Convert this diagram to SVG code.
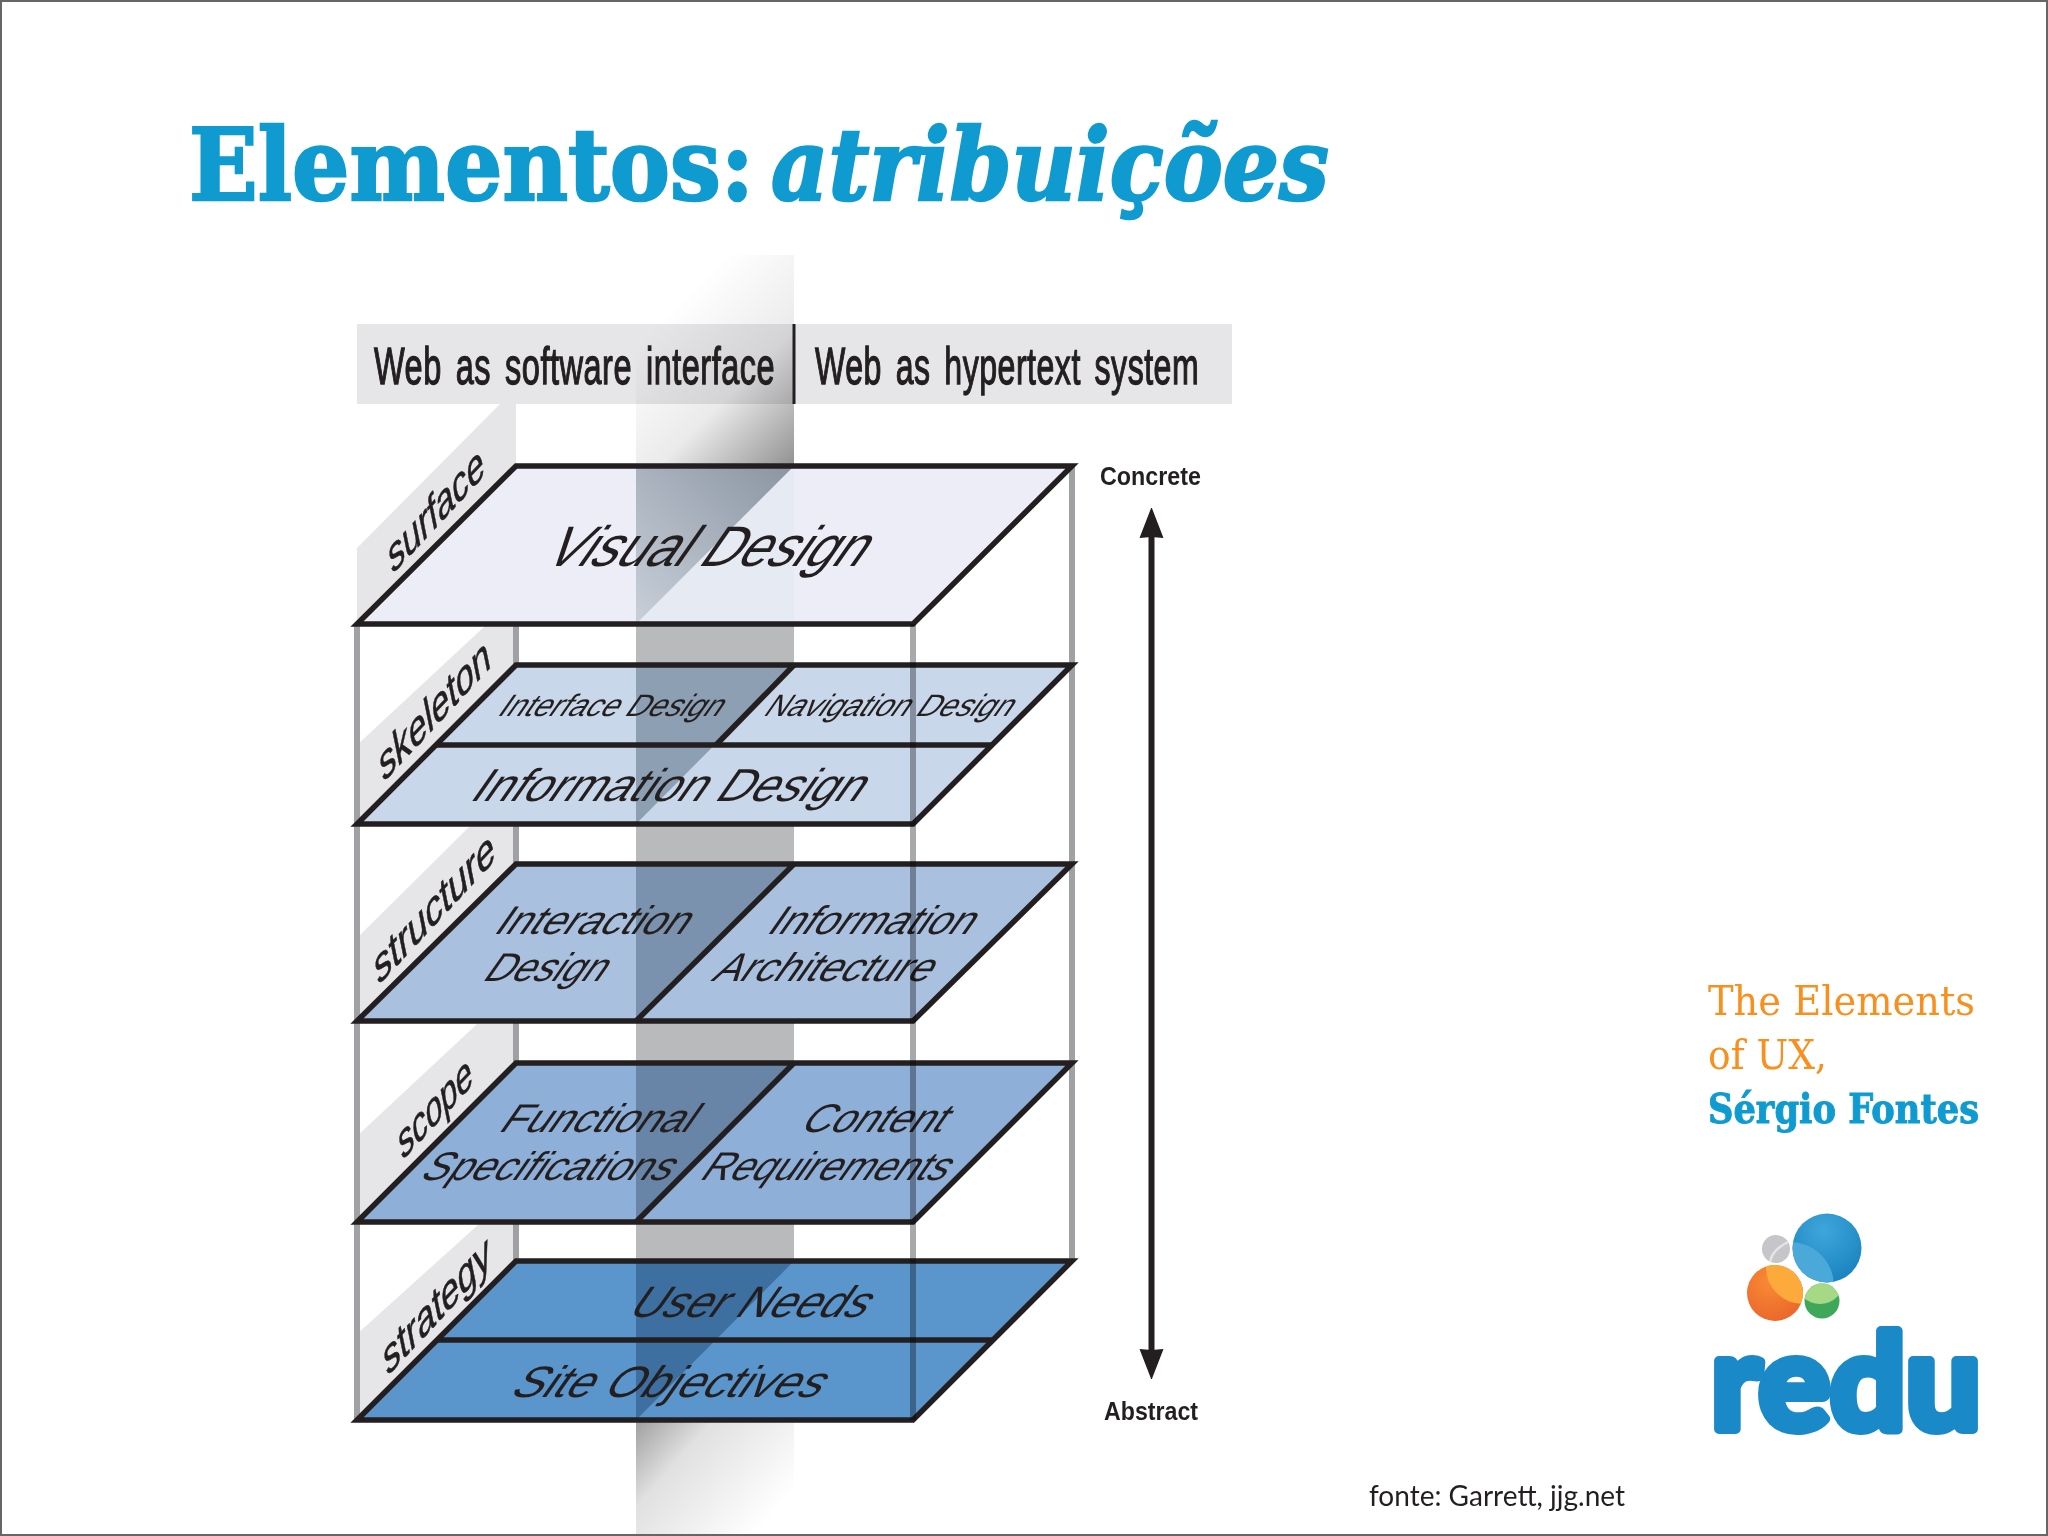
<svg xmlns="http://www.w3.org/2000/svg" width="2048" height="1536" viewBox="0 0 2048 1536">
<style>
.lbl{font-family:"Liberation Sans",Arial,sans-serif;fill:#231f20}
.pl{stroke:#231f20;stroke-width:5.5;stroke-linejoin:miter;fill:none}
.post{stroke:#a0a1a4;stroke-width:6;fill:none}
.side{font-family:"Liberation Sans",Arial,sans-serif;fill:#231f20;font-size:47px;stroke:#231f20;stroke-width:.6}
.head{font-family:"Liberation Sans",Arial,sans-serif;fill:#231f20;font-size:52px;stroke:#231f20;stroke-width:1.3;word-spacing:7px;letter-spacing:.8px}
.ax{font-family:"Liberation Sans",Arial,sans-serif;fill:#231f20;font-size:25px;font-weight:700}
.tab{fill:#e6e6e8}
.title{font-family:"DejaVu Serif",serif;font-size:100px;font-weight:700;fill:#0f9bd0;stroke:#0f9bd0;stroke-width:2.5}
.credit{font-family:"DejaVu Serif",serif;font-size:41px}
</style>
<defs>
<linearGradient id="gTop" gradientUnits="userSpaceOnUse" x1="650" y1="330" x2="794" y2="474">
<stop offset="0" stop-color="#000" stop-opacity="0"/><stop offset=".5" stop-color="#000" stop-opacity=".08"/><stop offset="1" stop-color="#000" stop-opacity=".45"/>
</linearGradient>
<linearGradient id="gBot" gradientUnits="userSpaceOnUse" x1="636" y1="1420" x2="760" y2="1530">
<stop offset="0" stop-color="#000" stop-opacity=".38"/><stop offset=".35" stop-color="#000" stop-opacity=".12"/><stop offset="1" stop-color="#000" stop-opacity="0"/>
</linearGradient>
<linearGradient id="gPlane" gradientUnits="userSpaceOnUse" x1="794" y1="466" x2="636" y2="624">
<stop offset="0" stop-color="#8a95a2"/><stop offset="1" stop-color="#c8cfd9"/>
</linearGradient>
<radialGradient id="gBlue" cx=".45" cy=".25" r=".85"><stop offset="0" stop-color="#3fa6da"/><stop offset="1" stop-color="#157fbd"/></radialGradient>
<radialGradient id="gOrange" cx=".4" cy=".3" r=".8"><stop offset="0" stop-color="#f98a35"/><stop offset="1" stop-color="#e8642a"/></radialGradient>
<clipPath id="cBlue"><circle cx="1827" cy="1248" r="34.5"/></clipPath>
<clipPath id="cOrange"><circle cx="1775" cy="1293" r="28"/></clipPath>
<clipPath id="cGreen"><circle cx="1822" cy="1301" r="17.5"/></clipPath>
<marker id="arr" markerUnits="userSpaceOnUse" markerWidth="30" markerHeight="25" refX="1" refY="12.5" orient="auto-start-reverse" viewBox="0 0 30 25">
<path d="M0 12.5 L-1 0.5 L30 12.5 L-1 24.5 Z" transform="translate(1,0)" fill="#231f20"/>
</marker>
</defs>
<rect width="2048" height="1536" fill="#fff"/>

<g id="title">
<text class="title" x="189" y="200" textLength="565" lengthAdjust="spacingAndGlyphs">Elementos:</text>
<text class="title" x="771" y="200" font-style="italic" textLength="558" lengthAdjust="spacingAndGlyphs">atribuições</text>
</g>

<g id="header">
<rect x="357" y="324" width="875" height="80" fill="#e6e6e8"/>
</g>

<g id="band">
<rect x="636" y="255" width="158" height="211" fill="url(#gTop)"/>
<rect x="636" y="624" width="158" height="796" fill="#b9babc"/>
<rect x="636" y="1420" width="158" height="116" fill="url(#gBot)"/>
</g>

<g id="header-labels">
<line x1="794" y1="324" x2="794" y2="404" stroke="#231f20" stroke-width="3"/>
<text class="head" transform="translate(374 384) scale(.68 1)" textLength="590" lengthAdjust="spacingAndGlyphs">Web as software interface</text>
<text class="head" transform="translate(815 384) scale(.68 1)" textLength="565" lengthAdjust="spacingAndGlyphs">Web as hypertext system</text>
</g>

<g id="tabs">
<polygon class="tab" points="500,404 516,404 516,466 357,624 357,548"/>
<polygon class="tab" points="485,626 516,626 516,665 357,824 357,745"/>
<polygon class="tab" points="470,826 516,826 516,864 357,1021 357,938"/>
<polygon class="tab" points="477,1024 516,1024 516,1063 357,1222 357,1136"/>
<polygon class="tab" points="479,1224 516,1224 516,1261 357,1420 357,1334"/>
</g>

<g id="posts">
<line class="post" x1="357" y1="624" x2="357" y2="1420"/>
<line class="post" x1="516" y1="624" x2="516" y2="1261"/>
<line class="post" x1="1072" y1="466" x2="1072" y2="1261"/>
</g>

<g id="strategy">
<polygon points="516,1261 1072,1261 913,1420 357,1420" fill="#5a95cc"/>
<polygon points="636,1261 794,1261 636,1420" fill="#3d6fa0"/>
<polygon class="pl" points="516,1261 1072,1261 913,1420 357,1420"/>
<line class="pl" x1="437" y1="1340" x2="992" y2="1340"/>
<text class="side" transform="matrix(.68 -.73 .2 .98 387 1377)" textLength="155" lengthAdjust="spacingAndGlyphs">strategy</text>
<text class="lbl" font-size="44" transform="translate(626 1317) skewX(-35)" textLength="236" lengthAdjust="spacingAndGlyphs">User Needs</text>
<text class="lbl" font-size="44" transform="translate(508 1397) skewX(-35)" textLength="309" lengthAdjust="spacingAndGlyphs">Site Objectives</text>
</g>

<g id="scope">
<polygon points="516,1063 1072,1063 913,1222 357,1222" fill="#8eafd7"/>
<polygon points="636,1063 794,1063 636,1222" fill="#6885a7"/>
<polygon class="pl" points="516,1063 1072,1063 913,1222 357,1222"/>
<line class="pl" x1="794" y1="1063" x2="636" y2="1222"/>
<text class="side" transform="matrix(.68 -.73 .2 .98 402 1161)" textLength="106" lengthAdjust="spacingAndGlyphs">scope</text>
<text class="lbl" font-size="40" transform="translate(497 1132) skewX(-35)" textLength="191" lengthAdjust="spacingAndGlyphs">Functional</text>
<text class="lbl" font-size="40" transform="translate(418 1180) skewX(-35)" textLength="249" lengthAdjust="spacingAndGlyphs">Specifications</text>
<text class="lbl" font-size="40" transform="translate(798 1132) skewX(-35)" textLength="142" lengthAdjust="spacingAndGlyphs">Content</text>
<text class="lbl" font-size="40" transform="translate(698 1180) skewX(-35)" textLength="245" lengthAdjust="spacingAndGlyphs">Requirements</text>
</g>

<g id="structure">
<polygon points="516,864 1072,864 913,1021 357,1021" fill="#a9c0df"/>
<polygon points="636,864 794,864 636,1021" fill="#7a92ad"/>
<polygon class="pl" points="516,864 1072,864 913,1021 357,1021"/>
<line class="pl" x1="794" y1="864" x2="636" y2="1021"/>
<text class="side" transform="matrix(.68 -.73 .2 .98 378 986)" textLength="174" lengthAdjust="spacingAndGlyphs">structure</text>
<text class="lbl" font-size="40" transform="translate(492 934) skewX(-35)" textLength="191" lengthAdjust="spacingAndGlyphs">Interaction</text>
<text class="lbl" font-size="40" transform="translate(481 981) skewX(-35)" textLength="119" lengthAdjust="spacingAndGlyphs">Design</text>
<text class="lbl" font-size="40" transform="translate(765 934) skewX(-35)" textLength="203" lengthAdjust="spacingAndGlyphs">Information</text>
<text class="lbl" font-size="40" transform="translate(710 981) skewX(-35)" textLength="217" lengthAdjust="spacingAndGlyphs">Architecture</text>
</g>

<g id="skeleton">
<polygon points="516,665 1072,665 913,824 357,824" fill="#c9d7ea"/>
<polygon points="636,665 794,665 636,824" fill="#8c9fb3"/>
<polygon class="pl" points="516,665 1072,665 913,824 357,824"/>
<line class="pl" x1="437" y1="745" x2="992" y2="745"/>
<line class="pl" x1="794" y1="665" x2="716" y2="745"/>
<text class="side" transform="matrix(.68 -.73 .2 .98 383 783)" textLength="160" lengthAdjust="spacingAndGlyphs">skeleton</text>
<text class="lbl" font-size="31" transform="translate(496 716) skewX(-35)" textLength="222" lengthAdjust="spacingAndGlyphs">Interface Design</text>
<text class="lbl" font-size="31" transform="translate(762 716) skewX(-35)" textLength="246" lengthAdjust="spacingAndGlyphs">Navigation Design</text>
<text class="lbl" font-size="46" transform="translate(468 801) skewX(-35)" textLength="389" lengthAdjust="spacingAndGlyphs">Information Design</text>
</g>

<g id="surface">
<polygon points="516,466 1072,466 913,624 357,624" fill="#ecedf6"/>
<polygon points="794,466 794,624 636,624" fill="#e6eaf3"/>
<polygon points="636,466 794,466 636,624" fill="url(#gPlane)"/>
<polygon class="pl" points="516,466 1072,466 913,624 357,624"/>
<text class="side" transform="matrix(.68 -.73 .2 .98 392 575)" textLength="138" lengthAdjust="spacingAndGlyphs">surface</text>
<text class="lbl" font-size="57" transform="translate(541 566) skewX(-35)" textLength="317" lengthAdjust="spacingAndGlyphs">Visual Design</text>
</g>

<g id="connectors">
<line x1="913" y1="624" x2="913" y2="1420" stroke="#a8a9ab" stroke-width="6" style="mix-blend-mode:multiply"/>
<line x1="1151.5" y1="537" x2="1151.5" y2="1350" stroke="#231f20" stroke-width="6" marker-start="url(#arr)" marker-end="url(#arr)"/>
</g>

<g id="axis-labels">
<text class="ax" x="1100" y="485" textLength="101" lengthAdjust="spacingAndGlyphs">Concrete</text>
<text class="ax" x="1104" y="1420" textLength="94" lengthAdjust="spacingAndGlyphs">Abstract</text>
</g>

<g id="credit">
<text class="credit" x="1708" y="1015" fill="#f7901e" textLength="267" lengthAdjust="spacingAndGlyphs">The Elements</text>
<text class="credit" x="1708" y="1069" fill="#f7901e" textLength="119" lengthAdjust="spacingAndGlyphs">of UX,</text>
<text class="credit" x="1708" y="1123" fill="#0f9bd0" font-weight="700" stroke="#0f9bd0" stroke-width="1" textLength="271" lengthAdjust="spacingAndGlyphs">Sérgio Fontes</text>
</g>

<g id="logo">
<circle cx="1776" cy="1249" r="14" fill="#c6c6ca"/>
<path d="M1770 1262 Q1772 1250 1788 1242" stroke="#e4e4e6" stroke-width="2.5" fill="none"/>
<circle cx="1827" cy="1248" r="34.5" fill="url(#gBlue)"/>
<circle cx="1790" cy="1286" r="44" fill="#4aa9d8" clip-path="url(#cBlue)"/>
<circle cx="1775" cy="1293" r="28" fill="url(#gOrange)"/>
<circle cx="1803" cy="1267" r="37" fill="#fdaa3c" clip-path="url(#cOrange)"/>
<circle cx="1822" cy="1301" r="17.5" fill="#3fa75a"/>
<circle cx="1820" cy="1280" r="24" fill="#a6d985" clip-path="url(#cGreen)"/>
<text x="1711" y="1429" font-family="Lato,'Open Sans',sans-serif" font-weight="700" font-size="132" fill="#1a89c7" stroke="#1a89c7" stroke-width="10" stroke-linejoin="round" textLength="270" lengthAdjust="spacingAndGlyphs">redu</text>
</g>

<text id="source" x="1369" y="1506" font-family="Lato,'Open Sans',sans-serif" font-size="29" fill="#231f20" textLength="256" lengthAdjust="spacingAndGlyphs">fonte: Garrett, jjg.net</text>

<rect id="frame" x="1" y="1" width="2046" height="1534" fill="none" stroke="#666" stroke-width="2"/>
</svg>
